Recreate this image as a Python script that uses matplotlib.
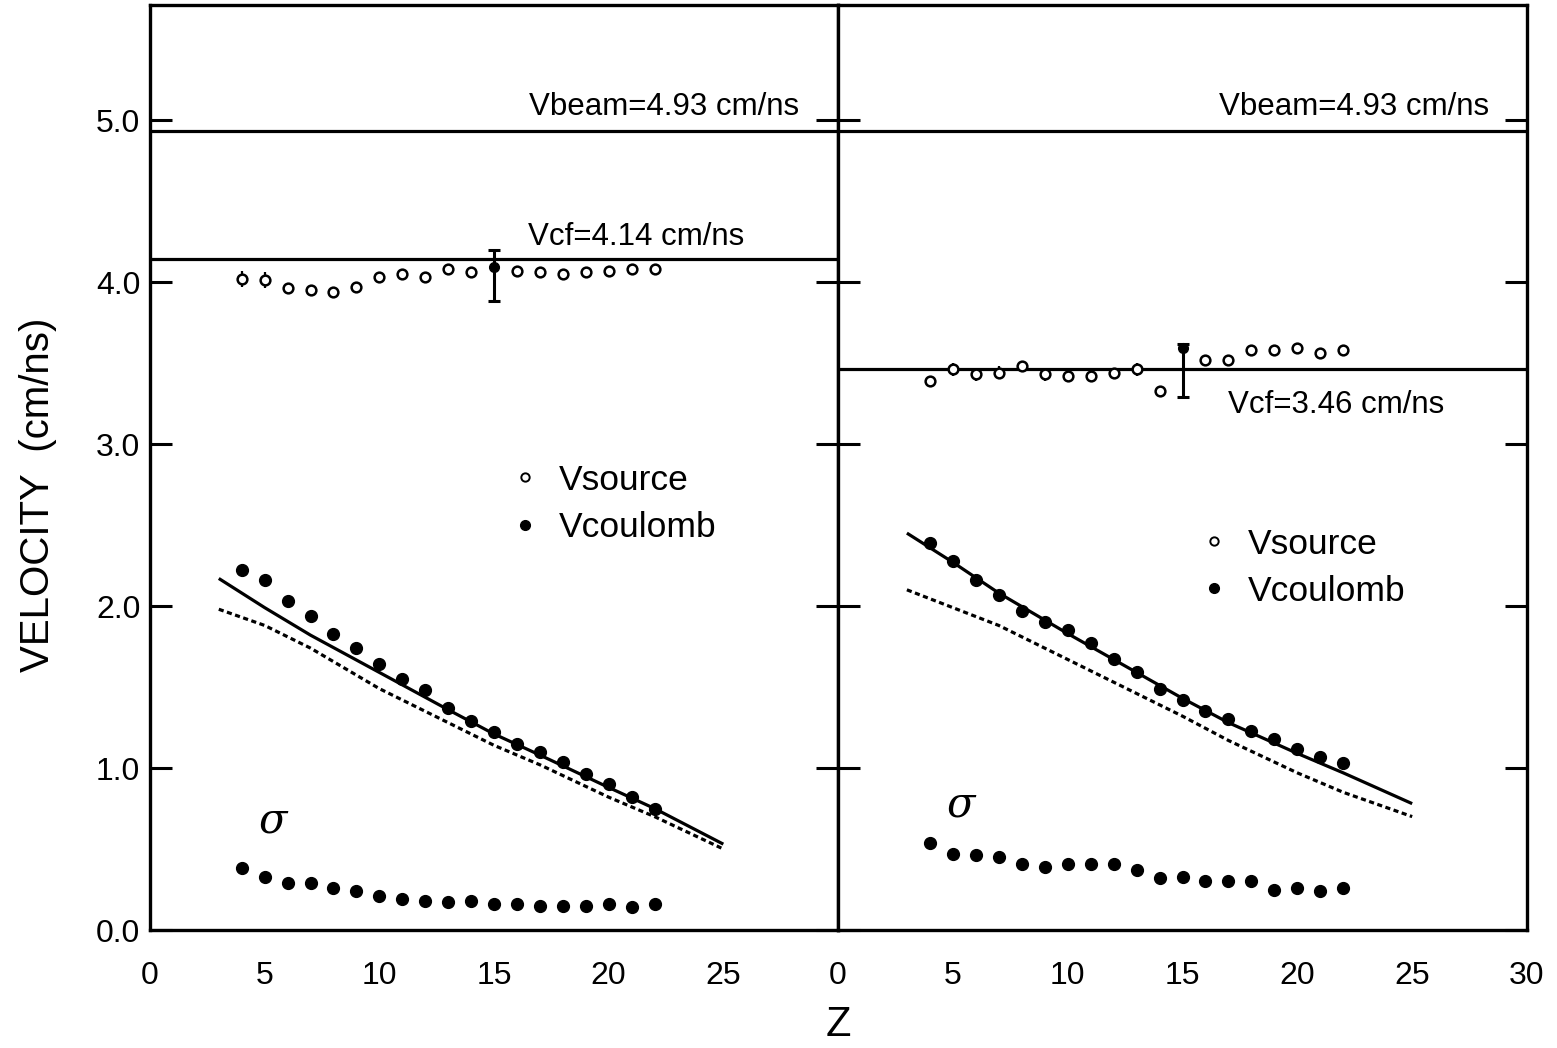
import matplotlib
matplotlib.use("Agg")
import matplotlib.pyplot as plt
from matplotlib.lines import Line2D
import numpy as np

plt.rcParams['font.family'] = ['Liberation Sans', 'DejaVu Sans']
plt.rcParams['mathtext.fontset'] = 'dejavuserif'

# ---------------- data ----------------
Z = [4, 5, 6, 7, 8, 9, 10, 11, 12, 13, 14, 16, 17, 18, 19, 20, 21, 22]
Zall = list(range(4, 23))

# left panel
L_vsource = [4.02, 4.01, 3.96, 3.95, 3.94, 3.97, 4.03, 4.05, 4.03, 4.08, 4.06,
             4.07, 4.06, 4.05, 4.06, 4.07, 4.08, 4.08]
L_vsource_err = [0.05, 0.05, 0, 0, 0, 0, 0, 0, 0, 0, 0, 0, 0, 0, 0, 0, 0, 0]
L_z15 = 15
L_v15 = 4.09
L_v15_lo = 0.21
L_v15_hi = 0.11
L_vcoul = [2.22, 2.16, 2.03, 1.94, 1.83, 1.74, 1.64, 1.55, 1.48, 1.37, 1.29,
           1.22, 1.15, 1.10, 1.04, 0.96, 0.90, 0.82, 0.75]
L_sigma = [0.38, 0.33, 0.29, 0.29, 0.26, 0.24, 0.21, 0.19, 0.18, 0.17, 0.18,
           0.16, 0.16, 0.15, 0.15, 0.15, 0.16, 0.14, 0.16]
L_vcf = 4.14

Zc = [3, 5, 7, 10, 13, 15, 17, 20, 22, 25]
L_solid = [2.17, 1.99, 1.82, 1.59, 1.36, 1.21, 1.08, 0.88, 0.75, 0.53]
L_dotted = [1.98, 1.88, 1.74, 1.49, 1.28, 1.14, 1.02, 0.82, 0.70, 0.50]

# right panel
R_vsource = [3.39, 3.46, 3.43, 3.44, 3.48, 3.43, 3.42, 3.42, 3.44, 3.46, 3.33,
             3.52, 3.52, 3.58, 3.58, 3.59, 3.56, 3.58]
R_vsource_err = [0, 0.04, 0.04, 0.04, 0.03, 0.04, 0.04, 0.04, 0.03, 0.04, 0,
                 0, 0, 0, 0, 0, 0, 0.02]
R_z15 = 15
R_v15 = 3.59
R_v15_lo = 0.30
R_v15_hi = 0.03
R_vcoul = [2.39, 2.28, 2.16, 2.07, 1.97, 1.90, 1.85, 1.77, 1.67, 1.59, 1.49,
           1.42, 1.35, 1.30, 1.23, 1.18, 1.12, 1.07, 1.03]
R_sigma = [0.54, 0.47, 0.46, 0.45, 0.41, 0.39, 0.41, 0.41, 0.41, 0.37, 0.32,
           0.33, 0.30, 0.30, 0.30, 0.25, 0.26, 0.24, 0.26]
R_vcf = 3.46
R_solid = [2.45, 2.27, 2.08, 1.83, 1.59, 1.43, 1.28, 1.09, 0.97, 0.78]
R_dotted = [2.10, 1.99, 1.88, 1.67, 1.46, 1.32, 1.17, 0.97, 0.85, 0.70]

vbeam = 4.93

left_xticks = [0, 5, 10, 15, 20, 25]
right_xticks = [0, 5, 10, 15, 20, 25, 30]
yticks = [0, 1, 2, 3, 4, 5]
ytick_labels = ["0.0", "1.0", "2.0", "3.0", "4.0", "5.0"]

# ---------------- figure ----------------
W, H = 1557, 1048
fig = plt.figure(figsize=(W / 100, H / 100), dpi=100)
x0, x1, x2 = 150 / W, 838 / W, 1527 / W
yb, yt = 1 - 930 / H, 1 - 5 / H
axL = fig.add_axes([x0, yb, x1 - x0, yt - yb])
axR = fig.add_axes([x1, yb, x2 - x1, yt - yb])

lw = 2.3
fs_tick = 23


def panel(ax, vs, vs_err, z15, v15, lo, hi, vc, sg, vcf, solid, dotted,
          xticks, show_y):
    ax.set_xlim(0, 30)
    ax.set_ylim(0, 5.71)
    for s in ax.spines.values():
        s.set_linewidth(2.4)
    ax.axhline(vbeam, color='black', lw=lw)
    ax.axhline(vcf, color='black', lw=lw)
    ax.plot(Zc, solid, color='black', lw=lw, solid_capstyle='butt')
    ax.plot(Zc, dotted, color='black', lw=lw, linestyle=(0, (1.6, 1.1)))
    ax.errorbar(Z, vs, yerr=vs_err, fmt='none', ecolor='black', elinewidth=1.6,
                capsize=0)
    ax.plot(Z, vs, 'o', mfc='white', mec='black', mew=1.8, ms=7, ls='none')
    ax.errorbar([z15], [v15], yerr=[[lo], [hi]], fmt='o', color='black',
                ms=7, elinewidth=2.2, capsize=4, capthick=2.2)
    ax.plot(Zall, vc, 'o', color='black', ms=8.5, ls='none')
    ax.plot(Zall, sg, 'o', color='black', ms=8.5, ls='none')
    ax.set_yticks(yticks)
    ax.set_xticks(xticks)
    ax.tick_params(axis='y', which='major', direction='in', length=16,
                   width=2.2, left=True, right=True, labelsize=fs_tick,
                   labelleft=show_y, pad=7)
    ax.tick_params(axis='x', which='major', direction='in', length=20,
                   width=2.2, top=True, bottom=True, labelsize=fs_tick, pad=22)
    if show_y:
        ax.set_yticklabels(ytick_labels)
    for t in ax.xaxis.get_major_ticks():
        if t.get_loc() in (0, 30):
            t.tick1line.set_visible(False)
            t.tick2line.set_visible(False)


panel(axL, L_vsource, L_vsource_err, L_z15, L_v15, L_v15_lo, L_v15_hi,
      L_vcoul, L_sigma, L_vcf, L_solid, L_dotted, left_xticks, True)
panel(axR, R_vsource, R_vsource_err, R_z15, R_v15, R_v15_lo, R_v15_hi,
      R_vcoul, R_sigma, R_vcf, R_solid, R_dotted, right_xticks, False)

fs_ann = 22.5
axL.text(28.3, 5.08, "Vbeam=4.93 cm/ns", ha='right', va='center', fontsize=fs_ann)
axR.text(28.35, 5.08, "Vbeam=4.93 cm/ns", ha='right', va='center', fontsize=fs_ann)
axL.text(16.5, 4.28, "Vcf=4.14 cm/ns", ha='left', va='center', fontsize=fs_ann)
axR.text(17.0, 3.24, "Vcf=3.46 cm/ns", ha='left', va='center', fontsize=fs_ann)

axL.text(5.4, 0.67, r"$\sigma$", ha='center', va='center', fontsize=30)
axR.text(5.4, 0.77, r"$\sigma$", ha='center', va='center', fontsize=30)

h_src = Line2D([], [], marker='o', ls='none', mfc='white', mec='black', mew=1.4, ms=6)
h_cou = Line2D([], [], marker='o', ls='none', color='black', ms=7)
for ax, (bx, by) in ((axL, (0.525, 0.504)), (axR, (0.525, 0.435))):
    ax.legend([h_src, h_cou], ["Vsource", "Vcoulomb"], loc='upper left',
              bbox_to_anchor=(bx, by), frameon=False, fontsize=25.5,
              handlelength=0.8, handletextpad=0.55, labelspacing=0.4,
              borderpad=0, borderaxespad=0)

fig.text(38 / W, 1 - 495 / H, "VELOCITY  (cm/ns)", rotation=90, ha='center',
         va='center', fontsize=29)
fig.text(838 / W, 1 - 1025 / H, "Z", ha='center', va='center', fontsize=30)

fig.savefig("out.png", dpi=100)
